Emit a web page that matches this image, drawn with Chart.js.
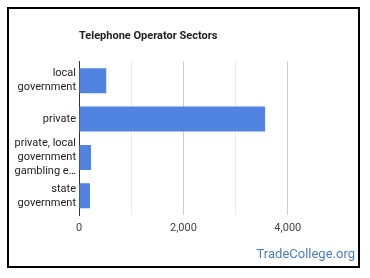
<!DOCTYPE html>
<html>
<head>
<meta charset="utf-8">
<script src="https://cdn.jsdelivr.net/npm/chart.js@4/dist/chart.umd.min.js"></script>
<style>
  html, body { margin: 0; padding: 0; background: #fff; }
  #wrap { position: relative; width: 370px; height: 278px; overflow: hidden; }
  #frame { position: absolute; left: 7px; top: 7px; width: 349px; height: 257px; border: 2px solid #000; pointer-events: none; }
  #title { position: absolute; left: 79px; top: 29px; font: bold 11px Roboto, Arial, sans-serif; color: #222; white-space: nowrap; }
  #mark { position: absolute; right: 15px; top: 246px; font: 13px Roboto, Arial, sans-serif; color: #4a7cc4; white-space: nowrap; }
  canvas { position: absolute; left: 0; top: 0; }
</style>
</head>
<body>
<div id="wrap">
  <canvas id="c" width="370" height="278"></canvas>
  <div id="title">Telephone Operator Sectors</div>
  <div id="mark">TradeCollege.org</div>
  <div id="frame"></div>
</div>
<script>
const categories = [
  ["local", "government"],
  ["private"],
  ["private, local", "government", "gambling e\u2026"],
  ["state", "government"]
];
const employment = [522, 3566, 230, 210];
const tickValues = [0, 2000, 4000];
const axisMax = 5000;

new Chart(document.getElementById('c'), {
  type: 'bar',
  data: {
    labels: categories,
    datasets: [{
      data: employment,
      backgroundColor: '#5183e1',
      borderWidth: 0,
      categoryPercentage: 0.65,
      barPercentage: 1
    }]
  },
  options: {
    indexAxis: 'y',
    responsive: false,
    animation: false,
    layout: { padding: { top: 61.5, right: 30, left: 0, bottom: 0 } },
    plugins: { legend: { display: false }, title: { display: false }, tooltip: { enabled: false } },
    scales: {
      x: {
        min: 0,
        max: axisMax,
        afterFit: s => { s.height = 63; },
        afterBuildTicks: s => { s.ticks = [0,1000,2000,3000,4000,5000].map(v => ({ value: v })); },
        border: { display: false },
        grid: {
          drawTicks: false,
          color: ctx => {
            const v = ctx.tick ? ctx.tick.value : null;
            if (v === 0 || v === axisMax) return 'rgba(0,0,0,0)';
            return tickValues.includes(v) ? '#cccccc' : '#ebebeb';
          }
        },
        ticks: {
          padding: 7,
          color: '#444',
          autoSkip: false,
          font: { family: 'Roboto', size: 11 },
          callback: v => tickValues.includes(v) ? v.toLocaleString('en-US') : ''
        }
      },
      y: {
        afterFit: s => { s.width = 79; },
        border: { display: true, color: '#333', width: 1 },
        grid: { display: false, drawTicks: false },
        ticks: {
          padding: 3,
          color: '#222',
          autoSkip: false,
          font: { family: 'Roboto', size: 11, lineHeight: 1.27 }
        }
      }
    }
  }
});
</script>
</body>
</html>
